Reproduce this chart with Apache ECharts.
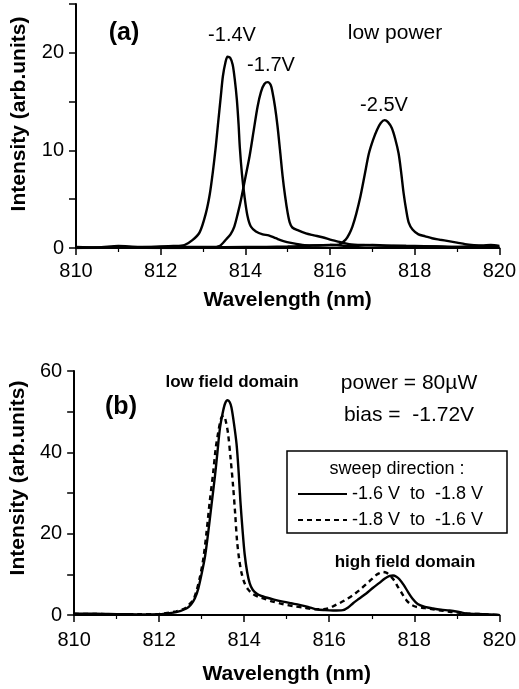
<!DOCTYPE html>
<html>
<head>
<meta charset="utf-8">
<script src="https://cdn.jsdelivr.net/npm/echarts@6/dist/echarts.min.js"></script>
<style>
  html, body { margin: 0; padding: 0; background: #fff; }
  #main { width: 519px; height: 689px; }
</style>
</head>
<body>
<div id="main"></div>
<script>
// panel (a): spectra at low power for three bias voltages, [wavelength nm, intensity]
const curveA14 = [[810,0.1],[810.5,0.05],[811,0.2],[811.5,0.1],[812,0.15],[812.3,0.2],[812.56,0.3],[812.75,0.8],[812.92,1.6],[813.07,3.6],[813.16,5.5],[813.23,7.7],[813.3,10.3],[813.35,12.5],[813.42,15.5],[813.47,17.6],[813.53,19.0],[813.58,19.6],[813.64,19.5],[813.70,18.8],[813.75,17.3],[813.80,15.2],[813.84,12.7],[813.87,10.3],[813.92,7.6],[813.98,5.3],[814.05,3.3],[814.13,2.2],[814.25,1.7],[814.41,1.4],[814.55,1.3],[814.72,1.0],[814.9,0.7],[815.11,0.5],[815.4,0.3],[815.66,0.25],[816,0.3],[816.5,0.2],[817,0.3],[817.5,0.2],[818,0.2],[818.5,0.15],[819,0.1],[819.5,0.2],[820,0.1]];
const curveA17 = [[810,0],[811,0.05],[812,0.1],[812.8,0.1],[813.2,0.1],[813.39,0.2],[813.55,0.9],[813.65,1.4],[813.74,2.2],[813.82,3.5],[813.9,5.0],[814.0,7.2],[814.1,9.4],[814.2,12.1],[814.29,14.5],[814.37,16.0],[814.45,16.8],[814.53,17.0],[814.6,16.7],[814.64,16.0],[814.7,14.5],[814.76,12.5],[814.82,10.0],[814.88,7.4],[814.94,5.3],[815.0,3.6],[815.05,2.6],[815.11,2.1],[815.25,1.8],[815.43,1.5],[815.62,1.3],[815.82,1.1],[816.05,0.8],[816.25,0.6],[816.45,0.4],[816.8,0.3],[817.2,0.25],[817.8,0.2],[818.5,0.15],[819.2,0.1],[820,0.1]];
const curveA25 = [[810,0],[811,0.1],[812,0],[813,0.05],[814,0.1],[815,0.15],[815.6,0.25],[816,0.3],[816.21,0.35],[816.37,0.85],[816.45,1.4],[816.53,2.2],[816.62,3.5],[816.72,5.3],[816.82,7.5],[816.92,9.7],[817.02,11.1],[817.11,12.1],[817.2,12.8],[817.29,13.1],[817.37,12.9],[817.46,12.3],[817.54,11.2],[817.62,9.7],[817.68,7.8],[817.74,5.6],[817.8,3.9],[817.86,2.6],[817.95,1.9],[818.09,1.4],[818.25,1.2],[818.41,1.0],[818.6,0.85],[818.8,0.7],[819.0,0.55],[819.19,0.4],[819.4,0.3],[819.58,0.25],[819.8,0.3],[820,0.2]];

// panel (b): power 80uW, bias -1.72V, two sweep directions
const curveB1 = [[810,0.3],[810.5,0.3],[811,0.2],[811.5,0.15],[812,0.2],[812.18,0.4],[812.4,0.7],[812.64,1.6],[812.75,2.6],[812.84,4.1],[812.92,6.5],[813.0,10.2],[813.08,14.5],[813.15,20],[813.23,27],[813.31,34],[813.37,40],[813.43,46],[813.49,49.5],[813.55,52],[813.61,52.8],[813.66,52.3],[813.7,51],[813.76,47],[813.82,42],[813.87,35],[813.91,28],[813.96,21],[814.01,15],[814.07,10.5],[814.13,7.8],[814.2,6.2],[814.29,5.3],[814.4,4.7],[814.52,4.3],[814.7,3.8],[814.91,3.3],[815.1,2.9],[815.3,2.5],[815.5,2.0],[815.7,1.4],[815.9,1.2],[816.09,1.1],[816.32,1.2],[816.45,1.9],[816.56,2.9],[816.7,4.0],[816.87,5.3],[817.03,6.7],[817.18,7.9],[817.3,8.9],[817.42,9.6],[817.5,9.7],[817.58,9.4],[817.65,8.8],[817.75,7.4],[817.85,5.7],[817.96,4.0],[818.08,2.7],[818.25,2.0],[818.44,1.6],[818.63,1.3],[818.83,1.1],[819.02,0.8],[819.22,0.4],[819.61,0.2],[820,0]];
const curveB2 = [[810,0.3],[810.5,0.25],[811,0.2],[811.5,0.2],[812,0.25],[812.2,0.5],[812.4,0.9],[812.6,1.6],[812.7,2.5],[812.8,3.7],[812.88,6.0],[812.96,9.4],[813.04,14],[813.11,20],[813.19,28],[813.27,35],[813.33,41],[813.39,45],[813.43,47.2],[813.47,48.7],[813.52,49],[813.57,47.5],[813.62,44.6],[813.68,38.5],[813.74,31.5],[813.79,24.5],[813.83,18.4],[813.88,13.8],[813.94,10.2],[814.01,7.8],[814.09,6.3],[814.2,5.2],[814.33,4.5],[814.5,3.9],[814.67,3.3],[814.9,2.7],[815.15,2.2],[815.4,1.8],[815.7,1.4],[815.85,1.4],[815.97,1.6],[816.1,2.2],[816.24,2.9],[816.4,3.8],[816.56,4.9],[816.72,6.2],[816.87,7.6],[817.0,8.8],[817.1,9.8],[817.18,10.3],[817.26,10.6],[817.34,10.4],[817.42,9.8],[817.52,8.6],[817.61,7.0],[817.71,5.3],[817.81,3.7],[817.92,2.6],[818.05,2.0],[818.25,1.7],[818.44,1.4],[818.63,1.1],[818.83,0.8],[819.02,0.6],[819.22,0.4],[819.6,0.2],[820,0]];

const sweepNames = ['-1.6 V  to  -1.8 V', '-1.8 V  to  -1.6 V'];

const FONT = '"Liberation Sans", Arial, Helvetica, sans-serif';

var myChart = echarts.init(document.getElementById('main'));

function xAxisFor(gridIndex, labelMargin, nameGap) {
    return {
        type: 'value', gridIndex: gridIndex, min: 810, max: 820, interval: 2,
        name: 'Wavelength (nm)', nameLocation: 'middle', nameGap: nameGap,
        nameTextStyle: { fontFamily: FONT, fontWeight: 'bold', fontSize: 21, color: '#000' },
        axisLine: { lineStyle: { color: '#000', width: 2 } },
        axisTick: { length: 7, lineStyle: { color: '#000', width: 1.5 } },
        minorTick: { show: true, splitNumber: 2, length: 4, lineStyle: { color: '#000', width: 1.2 } },
        splitLine: { show: false },
        axisLabel: { margin: labelMargin, fontFamily: FONT, fontSize: 20, color: '#000' }
    };
}

function yAxisFor(gridIndex, max, step, labelStep, nameGap, shift) {
    return {
        type: 'value', gridIndex: gridIndex, min: 0, max: max, interval: step,
        name: 'Intensity (arb.units)', nameLocation: 'middle', nameGap: nameGap,
        nameTextStyle: { fontFamily: FONT, fontWeight: 'bold', fontSize: 21, color: '#000', padding: [0, 0, 0, shift] },
        axisLine: { show: true, lineStyle: { color: '#000', width: 2 } },
        axisTick: { show: true, length: 7, lineStyle: { color: '#000', width: 1.5 } },
        splitLine: { show: false },
        axisLabel: {
            margin: 12, fontFamily: FONT, fontSize: 20, color: '#000',
            formatter: function (v) { return v % labelStep === 0 ? String(v) : ''; }
        }
    };
}

function curve(name, data, xi, dashed) {
    return {
        name: name, type: 'line', xAxisIndex: xi, yAxisIndex: xi,
        data: data, symbol: 'none', smooth: 0.3,
        lineStyle: { color: '#000', width: 2.4, type: dashed ? [5, 4] : 'solid' },
        itemStyle: { color: '#000' }
    };
}

function label(text, x, y, size, bold) {
    return {
        type: 'text', x: x, y: y,
        style: {
            text: text, fill: '#000', align: 'center', verticalAlign: 'middle',
            font: (bold ? 'bold ' : '') + size + 'px ' + FONT
        }
    };
}

var option = {
    animation: false,
    grid: [
        { left: 76, right: 18, top: 4, height: 244 },
        { left: 74, right: 19, top: 371, height: 244 }
    ],
    xAxis: [xAxisFor(0, 13, 42), xAxisFor(1, 15, 49)],
    yAxis: [yAxisFor(0, 25, 5, 10, 46, 24), yAxisFor(1, 60, 10, 20, 44, 30)],
    legend: {
        data: sweepNames, orient: 'vertical', left: 297, top: 485,
        itemWidth: 49, itemHeight: 16, itemGap: 8, padding: 0,
        itemStyle: { opacity: 0 },
        textStyle: { fontFamily: FONT, fontSize: 18, color: '#000' }
    },
    series: [
        curve('-1.4V', curveA14, 0, false),
        curve('-1.7V', curveA17, 0, false),
        curve('-2.5V', curveA25, 0, false),
        curve(sweepNames[0], curveB1, 1, false),
        curve(sweepNames[1], curveB2, 1, true)
    ],
    graphic: [
        label('(a)', 124, 33, 25, true),
        label('-1.4V', 232, 35, 20, false),
        label('-1.7V', 271, 65, 20, false),
        label('-2.5V', 384, 105, 20, false),
        label('low power', 395, 33, 21, false),
        label('(b)', 121, 407, 25, true),
        label('low field domain', 232, 382, 17, true),
        label('power = 80\u00b5W', 409, 383, 21, false),
        label('bias =  -1.72V', 409, 415, 21, false),
        label('high field domain', 405, 562, 17, true),
        {
            type: 'rect', shape: { x: 287, y: 451, width: 220, height: 82 },
            style: { fill: 'none', stroke: '#000', lineWidth: 1.5 }
        },
        label('sweep direction :', 397, 469, 18, false)
    ]
};

myChart.setOption(option);
</script>
</body>
</html>
